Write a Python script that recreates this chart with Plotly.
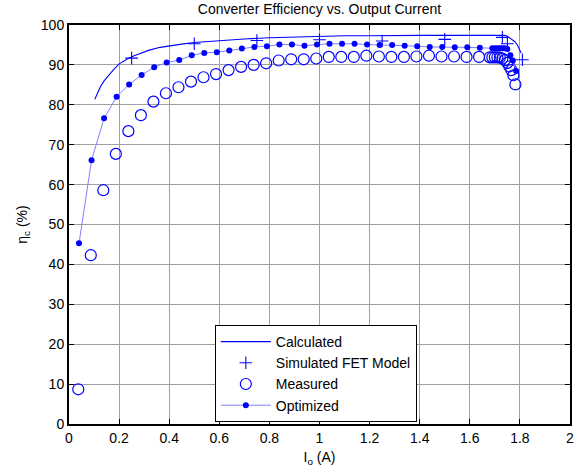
import plotly.graph_objects as go

# Calculated efficiency curve
calc_x = [0.103, 0.115, 0.126, 0.14, 0.153, 0.166, 0.179, 0.199, 0.232, 0.26, 0.285, 0.32,
          0.364, 0.41, 0.45, 0.5, 0.56, 0.63, 0.7, 0.8, 0.9, 1.0, 1.1, 1.2, 1.3, 1.4, 1.5,
          1.6, 1.7, 1.74, 1.75, 1.76, 1.77, 1.78, 1.79, 1.80, 1.805]
calc_y = [81.4, 83.2, 84.6, 86.0, 87.0, 88.0, 88.9, 90.2, 91.5, 92.3, 92.9, 93.7,
          94.4, 94.9, 95.2, 95.6, 95.9, 96.2, 96.5, 96.8, 97.0, 97.2, 97.3, 97.3, 97.4, 97.4, 97.4,
          97.4, 97.4, 97.4, 97.2, 96.8, 96.3, 95.8, 95.0, 93.8, 93.0]

# Simulated FET model
sim_x = [0.25, 0.5, 0.75, 1.0, 1.25, 1.5, 1.73, 1.75, 1.81]
sim_y = [91.7, 95.3, 96.1, 96.3, 96.0, 96.4, 96.9, 95.3, 91.3]

# Measured
meas_x = [0.037, 0.087, 0.137, 0.187, 0.237, 0.287, 0.337, 0.387, 0.437, 0.487, 0.537,
          0.587, 0.637, 0.687, 0.737, 0.787, 0.837, 0.887, 0.937, 0.987, 1.037, 1.087,
          1.137, 1.187, 1.237, 1.287, 1.337, 1.387, 1.437, 1.487, 1.537, 1.587, 1.637,
          1.68, 1.69, 1.70, 1.71, 1.72, 1.73, 1.74, 1.75, 1.758, 1.766, 1.774, 1.782]
meas_y = [8.7, 42.3, 58.6, 67.7, 73.4, 77.4, 80.8, 82.9, 84.4, 85.8, 86.9,
          87.7, 88.7, 89.5, 90.0, 90.4, 91.1, 91.4, 91.4, 91.6, 92.0, 92.0,
          92.0, 92.3, 92.1, 92.0, 92.0, 92.1, 92.3, 92.1, 92.1, 92.0, 92.0,
          91.9, 91.9, 91.9, 91.9, 91.8, 91.6, 91.2, 90.5, 89.6, 88.7, 87.4, 85.1]

# Optimized
opt_x = [0.04, 0.09, 0.14, 0.19, 0.24, 0.29, 0.34, 0.39, 0.44, 0.49, 0.54, 0.59, 0.64,
         0.69, 0.74, 0.79, 0.84, 0.89, 0.94, 0.99, 1.04, 1.09, 1.14, 1.19, 1.24, 1.29,
         1.34, 1.39, 1.44, 1.49, 1.54, 1.59, 1.64, 1.69, 1.70, 1.71, 1.72, 1.73, 1.74,
         1.75, 1.762, 1.772, 1.785]
opt_y = [45.3, 66.1, 76.6, 82.0, 85.1, 87.5, 89.4, 90.6, 91.2, 92.4, 93.0, 93.2, 93.6,
         94.1, 94.5, 94.7, 95.1, 95.1, 94.8, 95.1, 95.3, 95.3, 95.3, 95.1, 95.0, 95.0,
         94.8, 94.7, 94.5, 94.5, 94.4, 94.4, 94.3, 94.2, 94.2, 94.2, 94.2, 94.2, 94.2,
         94.0, 92.4, 91.1, 88.5]

x_ticks = [0, 0.2, 0.4, 0.6, 0.8, 1, 1.2, 1.4, 1.6, 1.8, 2]
y_ticks = [0, 10, 20, 30, 40, 50, 60, 70, 80, 90, 100]

BLUE = "#0000ff"
LIGHT = "#8080ff"
FONT = "Liberation Sans, Arial, sans-serif"

fig = go.Figure()
fig.add_trace(go.Scatter(x=calc_x, y=calc_y, mode="lines", name="Calculated",
                         line=dict(color=BLUE, width=1.1)))
fig.add_trace(go.Scatter(x=sim_x, y=sim_y, mode="markers", name="Simulated FET Model",
                         marker=dict(symbol="cross-thin", size=9, color=BLUE,
                                     line=dict(color=BLUE, width=1.1))))
fig.add_trace(go.Scatter(x=meas_x, y=meas_y, mode="markers", name="Measured",
                         marker=dict(symbol="circle-open", size=11, color=BLUE,
                                     line=dict(color=BLUE, width=1.2))))
fig.add_trace(go.Scatter(x=opt_x, y=opt_y, mode="lines+markers", name="Optimized",
                         line=dict(color=LIGHT, width=1),
                         marker=dict(symbol="circle", size=6, color=BLUE)))

axis_common = dict(
    showline=True, linecolor="black", linewidth=2, mirror="ticks",
    ticks="inside", ticklen=5, tickwidth=1, tickcolor="black",
    showgrid=True, gridcolor="#a0a0a0", gridwidth=1, zeroline=False,
    tickfont=dict(family=FONT, size=14, color="black"),
)

fig.update_layout(
    width=580, height=475,
    margin=dict(l=69, r=6, t=25, b=51),
    paper_bgcolor="white", plot_bgcolor="white",
    font=dict(family=FONT, size=14, color="black"),
    title=dict(text="Converter Efficiency vs. Output Current", x=0.5, xanchor="center",
               xref="paper", y=1 - 9 / 475, yanchor="middle", yref="container",
               font=dict(family=FONT, size=14, color="black")),
    xaxis=dict(range=[0, 2], tickvals=x_ticks,
               title=dict(text="I<sub>o</sub> (A)", standoff=7,
                          font=dict(family=FONT, size=14, color="black")),
               **axis_common),
    yaxis=dict(range=[0, 100], tickvals=y_ticks,
               title=dict(text="η<sub>c</sub> (%)", standoff=10,
                          font=dict(family=FONT, size=14, color="black")),
               **axis_common),
    legend=dict(x=(216 - 69) / 505, y=(424 - 325) / 399, xanchor="left", yanchor="top",
                bgcolor="white", bordercolor="black", borderwidth=1,
                font=dict(family=FONT, size=14, color="black"),
                itemwidth=50, tracegroupgap=0),
    showlegend=True,
)

fig.write_html("out.html")
